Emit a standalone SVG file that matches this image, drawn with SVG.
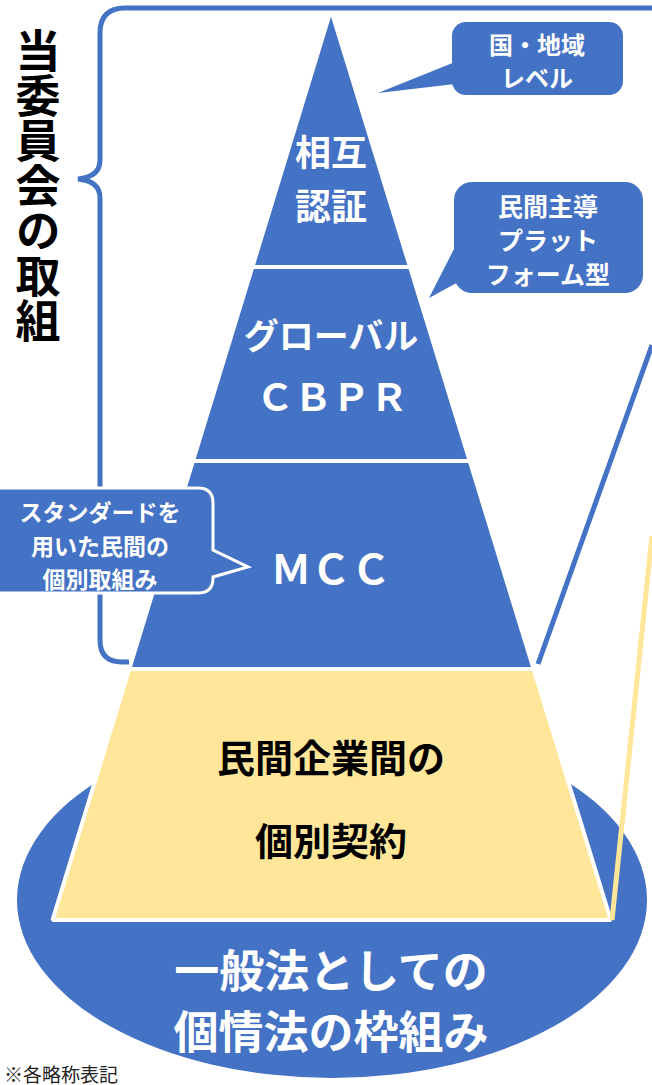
<svg xmlns="http://www.w3.org/2000/svg" width="652" height="1085" viewBox="0 0 652 1085">
<style>
.t{font-family:"Noto Sans CJK JP","Noto Sans",sans-serif;font-weight:bold;dominant-baseline:central;text-anchor:middle}
.w{fill:#fff}
.k{fill:#000}
.blue{fill:#4472C4}
.seg{fill:#4472C4;stroke:#fff;stroke-width:4;stroke-linejoin:bevel}
.ln{stroke:#4472C4;stroke-width:5;fill:none}
</style>
<rect width="652" height="1085" fill="#fff"/>
<g id="base">
<ellipse cx="332" cy="900" rx="315" ry="178" class="blue"/>
<text class="t w" x="331" y="968" font-size="45">一般法としての</text>
<text class="t w" x="331" y="1029" font-size="45">個情法の枠組み</text>
</g>
<g id="contract">
<polygon points="129.3,669 533.6,669 610.8,920 52.5,920" fill="#FFE699" stroke="#fff" stroke-width="4" stroke-linejoin="bevel"/>
<text class="t k" x="331" y="755" font-size="38">民間企業間の</text>
<text class="t k" x="331" y="838" font-size="38">個別契約</text>
</g>
<g id="mcc">
<polygon class="seg" points="193,461 469.7,461 533.6,669 129.3,669"/>
<text class="t w" x="331" y="567" font-size="40">ＭＣＣ</text>
</g>
<g id="cbpr">
<polygon class="seg" points="252.4,267 410,267 469.7,461 193,461"/>
<text class="t w" x="331" y="333" font-size="35">グローバル</text>
<text class="t w" x="332" y="394" font-size="38">ＣＢＰＲ</text>
</g>
<g id="mutual">
<polygon class="seg" points="331,10 410,267 252.4,267"/>
<text class="t w" x="331" y="150" font-size="36">相互</text>
<text class="t w" x="331" y="204" font-size="36">認証</text>
</g>
<g id="connectors">
<path class="ln" d="M652 8 H125 Q100 8 100 33 V160 Q100 177 78 179 Q100 181 100 198 V640 Q100 662 122 662 H129"/>
<line x1="652" y1="345" x2="538" y2="664" stroke="#4472C4" stroke-width="5"/>
<line x1="652" y1="536" x2="612" y2="920" stroke="#FFE699" stroke-width="5"/>
</g>
<g id="title">
<text x="38" y="186" writing-mode="vertical-rl" text-anchor="middle" font-family="Noto Sans CJK JP, sans-serif" font-weight="bold" font-size="45" fill="#000">当委員会の取組</text>
</g>
<g id="callout-country">
<rect x="452" y="22" width="171" height="73" rx="14" class="blue"/>
<polygon points="455,62 378,93 455,84" class="blue"/>
<text class="t w" x="537" y="43" font-size="24">国・地域</text>
<text class="t w" x="537" y="76" font-size="24">レベル</text>
</g>
<g id="callout-platform">
<rect x="454" y="182" width="189" height="111" rx="18" class="blue"/>
<polygon points="456,245 429,298 462,280" class="blue"/>
<text class="t w" x="548" y="205" font-size="25">民間主導</text>
<text class="t w" x="548" y="239" font-size="25">プラット</text>
<text class="t w" x="548" y="273" font-size="25">フォーム型</text>
</g>
<g id="callout-standard">
<path d="M-10 488 H198 Q213 488 213 503 V550 L248 567 L213 577 V578 Q213 593 198 593 H-10 Z" fill="#4472C4" stroke="#fff" stroke-width="3"/>
<text class="t w" x="100" y="511" font-size="23">スタンダードを</text>
<text class="t w" x="100" y="545" font-size="23">用いた民間の</text>
<text class="t w" x="100" y="578" font-size="23">個別取組み</text>
</g>
<text x="4" y="1073" font-family="Noto Sans CJK JP, sans-serif" font-size="19" dominant-baseline="central" fill="#222">※各略称表記</text>
</svg>
